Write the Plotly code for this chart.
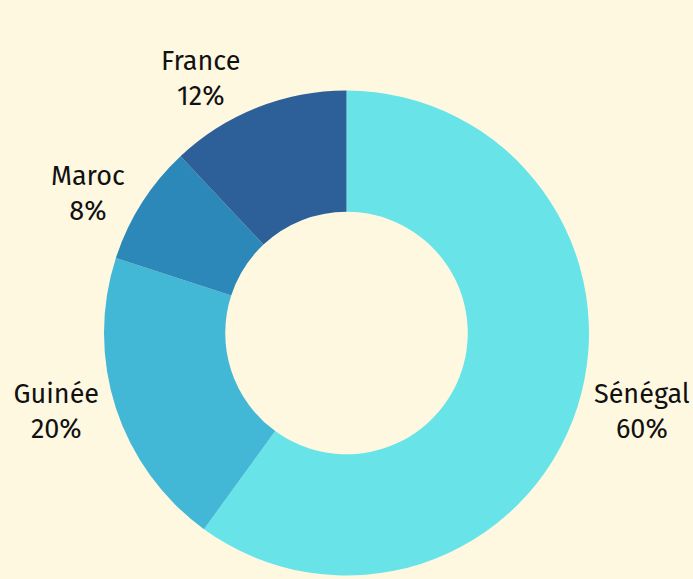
import plotly.graph_objects as go

# Data
countries = ["Sénégal", "Guinée", "Maroc", "France"]
shares = [60, 20, 8, 12]
colors = ["#68E4E9", "#43B7D6", "#2C88B8", "#2D5F98"]

bg = "#FEF8E1"

fig = go.Figure(go.Pie(
    labels=countries,
    values=shares,
    hole=0.5,
    sort=False,
    direction="clockwise",
    rotation=0,
    marker=dict(colors=colors, line=dict(width=0)),
    textposition="outside",
    texttemplate="%{label}<br>%{percent:.0%}",
    textfont=dict(size=27, color="#111111"),
    showlegend=False,
))

fig.update_layout(
    width=697, height=620,
    paper_bgcolor=bg,
    plot_bgcolor=bg,
    font=dict(family="Fira Sans, Noto Sans, sans-serif"),
    margin=dict(l=0, r=0, t=0, b=0),
)

# page without the default white body margin
fig.write_html(
    "out.html",
    config={"displayModeBar": False},
    post_script="document.body.style.margin='0';document.body.style.marginLeft='3px';"
                "document.body.style.background='%s';"
                "document.body.style.overflow='hidden';" % bg,
)
